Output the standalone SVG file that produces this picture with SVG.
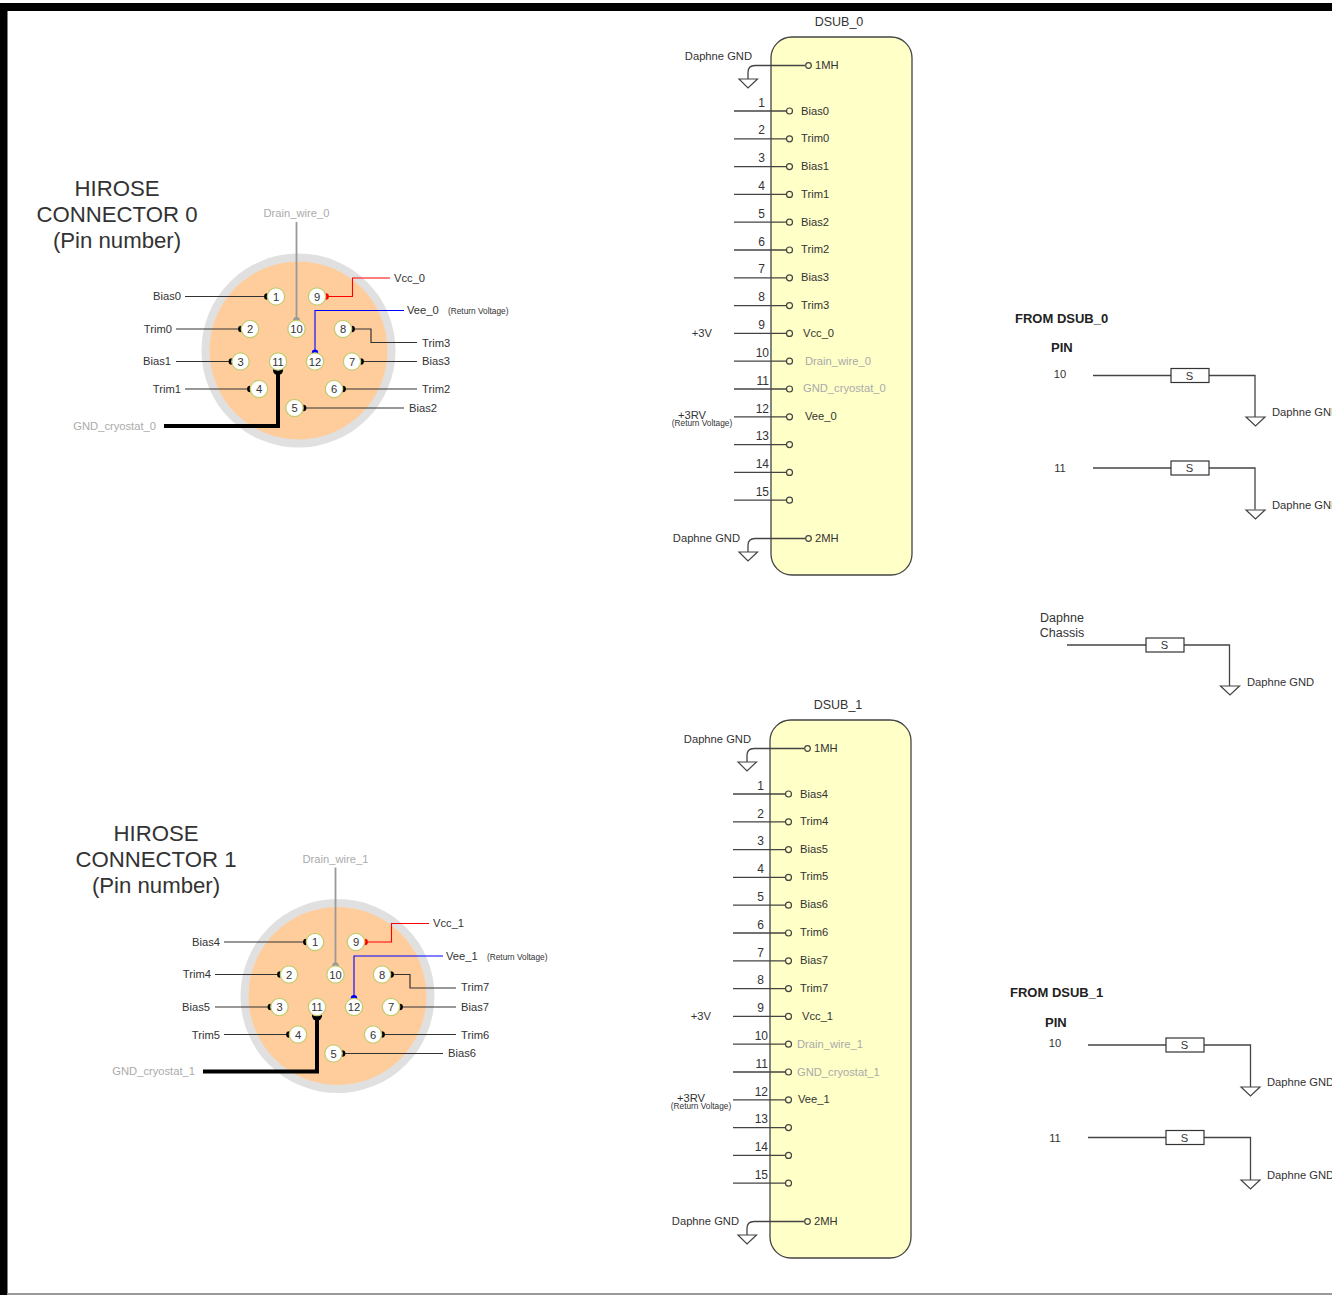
<svg xmlns="http://www.w3.org/2000/svg" width="1332" height="1295" viewBox="0 0 1332 1295">
<style>
text{font-family:"Liberation Sans",Arial,sans-serif;font-size:11.2px;fill:#333}
.t{font-size:22.2px;text-anchor:middle;fill:#333}
.g{fill:#aaa}
.m{text-anchor:middle}
.r{text-anchor:end}
.s{font-size:8.300px}
.l{font-size:12.500px}
.b{font-weight:bold;font-size:13px;fill:#222}
.pn{text-anchor:middle;font-size:11.2px}
.n{font-size:12px;text-anchor:end}
.outer{fill:#ccc;opacity:.6}
.w{fill:none;stroke:#444;stroke-width:1.3}
.inner{fill:#ffcd9c}
.pin{fill:#fff;stroke:#c5cc70;stroke-width:1.3}
.body{fill:#ffffc8;stroke:#444;stroke-width:1.3}
.o2{fill:#ffffc8;stroke:#444;stroke-width:1.2}
.tri{fill:#fff;stroke:#444;stroke-width:1.2}
.box{fill:#fff;stroke:#333;stroke-width:1.2}
.bk{fill:none;stroke:#333;stroke-width:1.2;marker-end:url(#d)}
.gy{fill:none;stroke:#999;stroke-width:1.8;marker-end:url(#dg)}
.rd{fill:none;stroke:#f00;stroke-width:1.1;marker-end:url(#dr)}
.bl{fill:none;stroke:#00f;stroke-width:1.1;marker-end:url(#db)}
.th{fill:none;stroke:#000;stroke-width:4;marker-end:url(#dt)}
</style>
<defs>
<marker id="d" markerUnits="userSpaceOnUse" markerWidth="8" markerHeight="8" refX="4" refY="4"><circle cx="4" cy="4" r="3.200" fill="#000"/></marker>
<marker id="dg" markerUnits="userSpaceOnUse" markerWidth="8" markerHeight="8" refX="4" refY="4"><circle cx="4" cy="4" r="3.400" fill="#999"/></marker>
<marker id="dr" markerUnits="userSpaceOnUse" markerWidth="8" markerHeight="8" refX="4" refY="4"><circle cx="4" cy="4" r="3.200" fill="#f00"/></marker>
<marker id="db" markerUnits="userSpaceOnUse" markerWidth="8" markerHeight="8" refX="4" refY="4"><circle cx="4" cy="4" r="3.200" fill="#00f"/></marker>
<marker id="dt" markerUnits="userSpaceOnUse" markerWidth="14" markerHeight="14" refX="7" refY="7"><circle cx="7" cy="7" r="5" fill="#000"/></marker>
<g id="h">
<circle class="outer" cx="298.500" cy="350.500" r="97"/>
<circle class="inner" cx="298.500" cy="350.500" r="89"/>
<path class="bk" d="M185 296.500H267.300"/>
<path class="bk" d="M176 329H241.300"/>
<path class="bk" d="M176 361.500H231.800"/>
<path class="bk" d="M185 389H250.300"/>
<path class="bk" d="M404 408H303.200"/>
<path class="bk" d="M417 389H342.700"/>
<path class="bk" d="M417 361.500H360.700"/>
<path class="bk" d="M417 342.500H371V329H351.700"/>
<path class="rd" d="M390 278H352.500V296.500H325.700"/>
<path class="bl" d="M404 310.500H315V352.800"/>
<path class="gy" d="M296.500 222V320.300"/>
<path class="th" d="M164 426H278V370.200"/>
<g text-anchor="middle">
<circle class="pin" cx="276" cy="296.500" r="8.700"/><text class="pn" x="276" y="300.500">1</text>
<circle class="pin" cx="250" cy="329" r="8.700"/><text class="pn" x="250" y="333">2</text>
<circle class="pin" cx="240.500" cy="361.500" r="8.700"/><text class="pn" x="240.500" y="365.500">3</text>
<circle class="pin" cx="259" cy="389" r="8.700"/><text class="pn" x="259" y="393">4</text>
<circle class="pin" cx="294.500" cy="408" r="8.700"/><text class="pn" x="294.500" y="412">5</text>
<circle class="pin" cx="334" cy="389" r="8.700"/><text class="pn" x="334" y="393">6</text>
<circle class="pin" cx="352" cy="361.500" r="8.700"/><text class="pn" x="352" y="365.500">7</text>
<circle class="pin" cx="343" cy="329" r="8.700"/><text class="pn" x="343" y="333">8</text>
<circle class="pin" cx="317" cy="296.500" r="8.700"/><text class="pn" x="317" y="300.500">9</text>
<circle class="pin" cx="296.500" cy="329" r="8.700"/><text class="pn" x="296.500" y="333">10</text>
<circle class="pin" cx="278" cy="361.500" r="8.700"/><text class="pn" x="278" y="365.500">11</text>
<circle class="pin" cx="315" cy="361.500" r="8.700"/><text class="pn" x="315" y="365.500">12</text>
</g>
</g>
</defs>

<rect id="frame-top" x="0" y="3" width="1332" height="8" fill="#000"/>
<rect id="frame-left" x="0" y="3" width="7.500" height="1292" fill="#000"/>
<rect id="frame-bottom" x="7.500" y="1293" width="1324.500" height="2" fill="#999"/>

<g id="hirose0">
<use href="#h"/>
<text class="t" x="117" y="195.500">HIROSE</text>
<text class="t" x="117" y="221.500">CONNECTOR 0</text>
<text class="t" x="117" y="247.500">(Pin number)</text>
<text class="g m" x="296.500" y="216.500">Drain_wire_0</text>
<text class="r" x="181" y="300">Bias0</text>
<text class="r" x="172" y="333">Trim0</text>
<text class="r" x="171" y="365">Bias1</text>
<text class="r" x="181" y="393">Trim1</text>
<text class="g r" x="156" y="430">GND_cryostat_0</text>
<text x="394" y="281.500">Vcc_0</text>
<text x="407" y="314">Vee_0</text>
<text class="s" x="448" y="314">(Return Voltage)</text>
<text x="422" y="346.500">Trim3</text>
<text x="422" y="365">Bias3</text>
<text x="422" y="393">Trim2</text>
<text x="409" y="411.500">Bias2</text>
</g>

<g id="hirose1">
<use href="#h" x="39" y="645.500"/>
<text class="t" x="156" y="840.500">HIROSE</text>
<text class="t" x="156" y="867">CONNECTOR 1</text>
<text class="t" x="156" y="893">(Pin number)</text>
<text class="g m" x="335.500" y="862.500">Drain_wire_1</text>
<text class="r" x="220" y="946">Bias4</text>
<text class="r" x="211" y="978">Trim4</text>
<text class="r" x="210" y="1011">Bias5</text>
<text class="r" x="220" y="1039">Trim5</text>
<text class="g r" x="195" y="1075">GND_cryostat_1</text>
<text x="433" y="927">Vcc_1</text>
<text x="446" y="960">Vee_1</text>
<text class="s" x="487" y="960">(Return Voltage)</text>
<text x="461" y="991">Trim7</text>
<text x="461" y="1011">Bias7</text>
<text x="461" y="1039">Trim6</text>
<text x="448" y="1057">Bias6</text>
</g>

<g id="dsub0">
<rect class="body" x="771" y="37" width="141" height="538" rx="21" ry="21"/>
<text class="l m" x="839" y="25.500">DSUB_0</text>
<text x="815" y="69">1MH</text>
<text x="815" y="541.500">2MH</text>
<text x="801" y="114.500">Bias0</text>
<text x="801" y="142">Trim0</text>
<text x="801" y="169.500">Bias1</text>
<text x="801" y="197.500">Trim1</text>
<text x="801" y="225.500">Bias2</text>
<text x="801" y="253">Trim2</text>
<text x="801" y="280.500">Bias3</text>
<text x="801" y="308.500">Trim3</text>
<text x="803" y="336.500">Vcc_0</text>
<text class="g" x="805" y="364.500">Drain_wire_0</text>
<text class="g" x="803" y="392">GND_cryostat_0</text>
<text x="805" y="420">Vee_0</text>
<text class="n" x="765" y="106.500">1</text><text class="n" x="765" y="134">2</text><text class="n" x="765" y="162">3</text><text class="n" x="765" y="190">4</text><text class="n" x="765" y="217.500">5</text><text class="n" x="765" y="245.500">6</text><text class="n" x="765" y="273">7</text><text class="n" x="765" y="301">8</text><text class="n" x="765" y="329">9</text><text class="n" x="769" y="356.500">10</text><text class="n" x="769" y="384.500">11</text><text class="n" x="769" y="412.500">12</text><text class="n" x="769" y="440">13</text><text class="n" x="769" y="468">14</text><text class="n" x="769" y="496">15</text>
<text class="r" x="752" y="60">Daphne GND</text>
<text class="r" x="740" y="541.500">Daphne GND</text>
<text class="r" x="712" y="336.500">+3V</text>
<text class="m" x="692" y="419">+3RV</text>
<text class="s m" x="702" y="426">(Return Voltage)</text>
</g>

<g id="dsub1">
<rect class="body" x="770" y="720" width="141" height="538" rx="21" ry="21"/>
<text class="l m" x="838" y="708.500">DSUB_1</text>
<text x="814" y="752">1MH</text>
<text x="814" y="1225">2MH</text>
<text x="800" y="797.500">Bias4</text>
<text x="800" y="824.500">Trim4</text>
<text x="800" y="852.500">Bias5</text>
<text x="800" y="880">Trim5</text>
<text x="800" y="908">Bias6</text>
<text x="800" y="935.500">Trim6</text>
<text x="800" y="963.500">Bias7</text>
<text x="800" y="991.500">Trim7</text>
<text x="802" y="1020">Vcc_1</text>
<text class="g" x="797" y="1047.500">Drain_wire_1</text>
<text class="g" x="797" y="1075.500">GND_cryostat_1</text>
<text x="798" y="1102.500">Vee_1</text>
<text class="n" x="764" y="790">1</text><text class="n" x="764" y="817.500">2</text><text class="n" x="764" y="845">3</text><text class="n" x="764" y="873">4</text><text class="n" x="764" y="901">5</text><text class="n" x="764" y="928.500">6</text><text class="n" x="764" y="956.500">7</text><text class="n" x="764" y="984">8</text><text class="n" x="764" y="1012">9</text><text class="n" x="768" y="1040">10</text><text class="n" x="768" y="1067.500">11</text><text class="n" x="768" y="1095.500">12</text><text class="n" x="768" y="1123">13</text><text class="n" x="768" y="1151">14</text><text class="n" x="768" y="1179">15</text>
<text class="r" x="751" y="743">Daphne GND</text>
<text class="r" x="739" y="1225">Daphne GND</text>
<text class="r" x="711" y="1020">+3V</text>
<text class="m" x="691" y="1102">+3RV</text>
<text class="s m" x="701" y="1109">(Return Voltage)</text>
</g>

<g id="connectors">
<path class="w" d="M734 111H786M734 138.800H786M734 166.600H786M734 194.400H786M734 222.200H786M734 250H786M734 277.800H786M734 305.600H786M734 333.400H786M734 361.200H786M734 389H786M734 416.800H786M734 444.600H786M734 472.400H786M734 500.200H786"/>
<path class="w" d="M733 794H785M733 821.800H785M733 849.600H785M733 877.400H785M733 905.200H785M733 933H785M733 960.800H785M733 988.600H785M733 1016.400H785M733 1044.200H785M733 1072H785M733 1099.800H785M733 1127.600H785M733 1155.400H785M733 1183.200H785"/>
<path class="w" d="M805 65.500H755Q748 65.500 748 72.500V79M805 538.500H755Q748 538.500 748 545.500V552"/>
<path class="w" d="M804 748.500H754Q747 748.500 747 755.500V762M804 1221.500H754Q747 1221.500 747 1228.500V1235"/>
<path class="w" d="M1093 375.500H1255V417M1093 468H1255V509.500"/>
<path class="w" d="M1067 645H1229.500V686"/>
<path class="w" d="M1088 1045H1250.500V1087M1088 1137.500H1250.500V1180"/>
<g id="c0">
<circle class="o2" cx="808.500" cy="65.500" r="2.800"/><circle class="o2" cx="808.500" cy="538.500" r="2.800"/>
<circle class="o2" cx="789.500" cy="111" r="3"/><circle class="o2" cx="789.500" cy="138.800" r="3"/><circle class="o2" cx="789.500" cy="166.600" r="3"/><circle class="o2" cx="789.500" cy="194.400" r="3"/><circle class="o2" cx="789.500" cy="222.200" r="3"/><circle class="o2" cx="789.500" cy="250" r="3"/><circle class="o2" cx="789.500" cy="277.800" r="3"/><circle class="o2" cx="789.500" cy="305.600" r="3"/><circle class="o2" cx="789.500" cy="333.400" r="3"/><circle class="o2" cx="789.500" cy="361.200" r="3"/><circle class="o2" cx="789.500" cy="389" r="3"/><circle class="o2" cx="789.500" cy="416.800" r="3"/><circle class="o2" cx="789.500" cy="444.600" r="3"/><circle class="o2" cx="789.500" cy="472.400" r="3"/><circle class="o2" cx="789.500" cy="500.200" r="3"/>
</g>
<g id="c1">
<circle class="o2" cx="807.500" cy="748.500" r="2.800"/><circle class="o2" cx="807.500" cy="1221.500" r="2.800"/>
<circle class="o2" cx="788.500" cy="794" r="3"/><circle class="o2" cx="788.500" cy="821.800" r="3"/><circle class="o2" cx="788.500" cy="849.600" r="3"/><circle class="o2" cx="788.500" cy="877.400" r="3"/><circle class="o2" cx="788.500" cy="905.200" r="3"/><circle class="o2" cx="788.500" cy="933" r="3"/><circle class="o2" cx="788.500" cy="960.800" r="3"/><circle class="o2" cx="788.500" cy="988.600" r="3"/><circle class="o2" cx="788.500" cy="1016.400" r="3"/><circle class="o2" cx="788.500" cy="1044.200" r="3"/><circle class="o2" cx="788.500" cy="1072" r="3"/><circle class="o2" cx="788.500" cy="1099.800" r="3"/><circle class="o2" cx="788.500" cy="1127.600" r="3"/><circle class="o2" cx="788.500" cy="1155.400" r="3"/><circle class="o2" cx="788.500" cy="1183.200" r="3"/>
</g>
</g>

<g id="gnd-symbols">
<path class="tri" d="M739 79H757.500L748 88Z"/>
<path class="tri" d="M739 552H757.500L748 561Z"/>
<path class="tri" d="M738 762H756.500L747 771Z"/>
<path class="tri" d="M738 1235H756.500L747 1244Z"/>
</g>

<g id="from-dsub0">
<text class="b" x="1015" y="322.500">FROM DSUB_0</text>
<text class="b" x="1051" y="352">PIN</text>
<text class="m" x="1060" y="378">10</text>
<text class="m" x="1060" y="472">11</text>
<rect class="box" x="1171" y="368.500" width="38" height="14"/><text class="m" x="1189.500" y="379.500">S</text>
<rect class="box" x="1171" y="461" width="38" height="14"/><text class="m" x="1189.500" y="472">S</text>
<path class="tri" d="M1246 417H1265L1255.500 426Z"/>
<path class="tri" d="M1246 510H1265L1255.500 519Z"/>
<text x="1272" y="416">Daphne GND</text>
<text x="1272" y="509">Daphne GND</text>
</g>

<g id="chassis">
<text class="l m" x="1062" y="621.500">Daphne</text>
<text class="l m" x="1062" y="636.500">Chassis</text>
<rect class="box" x="1146" y="638" width="38" height="14"/><text class="m" x="1164.500" y="649">S</text>
<path class="tri" d="M1220.500 686H1239.500L1230 695Z"/>
<text x="1247" y="686">Daphne GND</text>
</g>

<g id="from-dsub1">
<text class="b" x="1010" y="997">FROM DSUB_1</text>
<text class="b" x="1045" y="1027">PIN</text>
<text class="m" x="1055" y="1047">10</text>
<text class="m" x="1055" y="1142">11</text>
<rect class="box" x="1166" y="1038" width="38" height="14"/><text class="m" x="1184.500" y="1049">S</text>
<rect class="box" x="1166" y="1130.500" width="38" height="14"/><text class="m" x="1184.500" y="1141.500">S</text>
<path class="tri" d="M1241 1087H1260L1250.500 1096Z"/>
<path class="tri" d="M1241 1180H1260L1250.500 1189Z"/>
<text x="1267" y="1086">Daphne GND</text>
<text x="1267" y="1179">Daphne GND</text>
</g>
</svg>
